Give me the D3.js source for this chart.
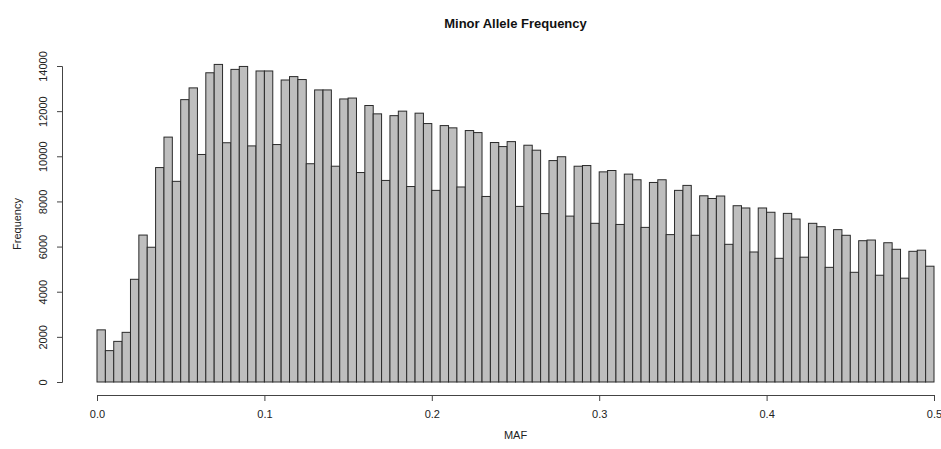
<!DOCTYPE html>
<html>
<head>
<meta charset="utf-8">
<script src="https://cdn.jsdelivr.net/npm/d3@7"></script>
<style>
  body { margin: 0; background: #fff; }
  svg { display: block; font-family: "Liberation Sans", Arial, sans-serif; }
</style>
</head>
<body>
<div id="chart"></div>
<script>
// MAF histogram, 100 bins of width 0.005 from 0 to 0.5
const binStart = 0;
const binWidth = 0.005;
const counts = [
  2310, 1390, 1800, 2200, 4550, 6510, 5970, 9500, 10850, 8890,
  12510, 13030, 10080, 13700, 14070, 10600, 13850, 13980, 10460, 13780,
  13780, 10520, 13380, 13530, 13400, 9670, 12940, 12940, 9560, 12540,
  12580, 9280, 12250, 11880, 8930, 11800, 12000, 8660, 11910, 11450,
  8490, 11360, 11260, 8640, 11140, 11050, 8220, 10610, 10430, 10650,
  7780, 10490, 10270, 7460, 9810, 9980, 7350, 9560, 9590, 7030,
  9310, 9370, 6980, 9210, 8960, 6850, 8840, 8960, 6530, 8490,
  8710, 6500, 8250, 8130, 8240, 6100, 7810, 7710, 5760, 7710,
  7520, 5480, 7470, 7220, 5530, 7030, 6880, 5080, 6750, 6500,
  4860, 6260, 6290, 4730, 6170, 5880, 4600, 5790, 5840, 5130
];
const xTicks = [0, 0.1, 0.2, 0.3, 0.4, 0.5];
const yTicks = [0, 2000, 4000, 6000, 8000, 10000, 12000, 14000];

const width = 941, height = 449;

const bins = counts.map((c, i) => ({
  x0: binStart + i * binWidth,
  x1: binStart + (i + 1) * binWidth,
  count: c
}));

const svg = d3.select('#chart')
  .append('svg')
  .attr('width', width)
  .attr('height', height);

const x = d3.scaleLinear().domain([0, 0.5]).range([97, 934]);
const y = d3.scaleLinear().domain([0, 14000]).range([382, 66]);

// Bars
svg.append('g')
  .selectAll('rect')
  .data(bins)
  .enter()
  .append('rect')
  .attr('x', d => x(d.x0))
  .attr('y', d => y(d.count))
  .attr('width', d => x(d.x1) - x(d.x0))
  .attr('height', d => y(0) - y(d.count))
  .attr('fill', '#bebebe')
  .attr('stroke', '#2a2a2a')
  .attr('stroke-width', 1);

// X axis
const xAxis = svg.append('g')
  .attr('transform', 'translate(0, 395)')
  .call(d3.axisBottom(x)
    .tickValues(xTicks)
    .tickFormat(d3.format('.1f'))
    .tickSizeOuter(0)
    .tickSize(6)
    .tickPadding(9));
xAxis.selectAll('path, line').attr('stroke', '#444');
xAxis.selectAll('text')
  .attr('font-size', '11px')
  .attr('font-family', '"Liberation Sans", Arial, sans-serif')
  .attr('fill', '#222');

// Y axis
const yAxis = svg.append('g')
  .attr('transform', 'translate(62, 0)')
  .call(d3.axisLeft(y)
    .tickValues(yTicks)
    .tickFormat(d3.format('d'))
    .tickSizeOuter(0)
    .tickSize(5));
yAxis.selectAll('path, line').attr('stroke', '#444');
yAxis.selectAll('text')
  .attr('font-size', '11px')
  .attr('font-family', '"Liberation Sans", Arial, sans-serif')
  .attr('fill', '#222')
  .attr('text-anchor', 'middle')
  .attr('x', 0)
  .attr('dy', 0)
  .attr('transform', 'translate(-15, 0) rotate(-90)');

// Title
svg.append('text')
  .attr('x', 515.5)
  .attr('y', 28)
  .attr('text-anchor', 'middle')
  .attr('font-size', '13px')
  .attr('font-weight', 'bold')
  .attr('fill', '#111')
  .text('Minor Allele Frequency');

// Axis titles
svg.append('text')
  .attr('x', 515.5)
  .attr('y', 439)
  .attr('text-anchor', 'middle')
  .attr('font-size', '11px')
  .attr('fill', '#222')
  .text('MAF');

svg.append('text')
  .attr('transform', 'translate(21, 224) rotate(-90)')
  .attr('text-anchor', 'middle')
  .attr('font-size', '11px')
  .attr('fill', '#222')
  .text('Frequency');
</script>
</body>
</html>
